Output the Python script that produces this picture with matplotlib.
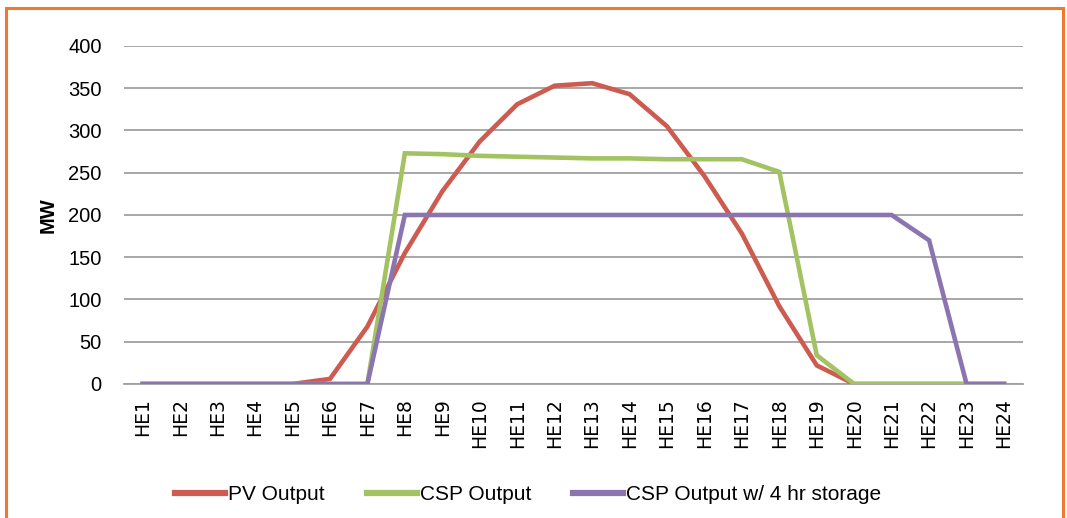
import matplotlib
matplotlib.use("Agg")
import matplotlib.pyplot as plt
from matplotlib.patches import Rectangle

hours = [f"HE{i}" for i in range(1, 25)]
pv_output = [0, 0, 0, 0, 0, 6, 68, 155, 228, 287, 331, 353, 356, 343, 305, 246, 178, 92, 22, 0, 0, 0, 0, 0]
csp_output = [0, 0, 0, 0, 0, 0, 0, 273, 272, 270, 269, 268, 267, 267, 266, 266, 266, 251, 34, 0, 0, 0, 0, 0]
csp_storage = [0, 0, 0, 0, 0, 0, 0, 200, 200, 200, 200, 200, 200, 200, 200, 200, 200, 200, 200, 200, 200, 170, 0, 0]
series_names = ["PV Output", "CSP Output", "CSP Output w/ 4 hr storage"]
yticks = [0, 50, 100, 150, 200, 250, 300, 350, 400]

fig = plt.figure(figsize=(10.67, 5.18), dpi=100)
ax = fig.add_axes([0.1162, 0.2587, 0.8423, 0.6525])

colors = ["#CD5B50", "#A3C262", "#8B74B0"]
x = list(range(len(hours)))
for vals, c, n in zip([pv_output, csp_output, csp_storage], colors, series_names):
    ax.plot(x, vals, color=c, lw=3.3, label=n, solid_joinstyle="miter", zorder=3)

ax.set_xlim(-0.5, len(hours) - 0.5)
ax.set_ylim(0, 400)
ax.set_yticks(yticks)
ax.set_yticklabels([str(v) for v in yticks], fontsize=14.5, family="Liberation Sans")
ax.set_xticks(x)
ax.set_xticklabels(hours, rotation=90, fontsize=13.5, family="DejaVu Sans")
ax.tick_params(axis="y", length=0, pad=16)
ax.tick_params(axis="x", length=0, pad=10)
ax.grid(axis="y", color="#A0A0A0", lw=1.3, zorder=0)
for s in ["top", "right", "left"]:
    ax.spines[s].set_visible(False)
ax.spines["bottom"].set_color("#A0A0A0")
ax.spines["bottom"].set_linewidth(1.3)
ax.set_ylabel("MW", fontsize=14.5, fontweight="bold", family="Liberation Sans", labelpad=8)

leg = fig.legend(loc="center", bbox_to_anchor=(0.495, 0.045), ncol=3, frameon=False,
                 prop={"family": "Liberation Sans", "size": 15}, handlelength=2.4, handletextpad=0.15,
                 columnspacing=2.0)
for h in leg.get_lines():
    h.set_linewidth(4.5)

fig.patches.append(Rectangle((6 / 1067, -0.1), 1057 / 1067, 1.1 - 8 / 518, transform=fig.transFigure,
                             fill=False, edgecolor="#F07830", lw=2.2, zorder=10))

fig.savefig("out.png", dpi=100)
